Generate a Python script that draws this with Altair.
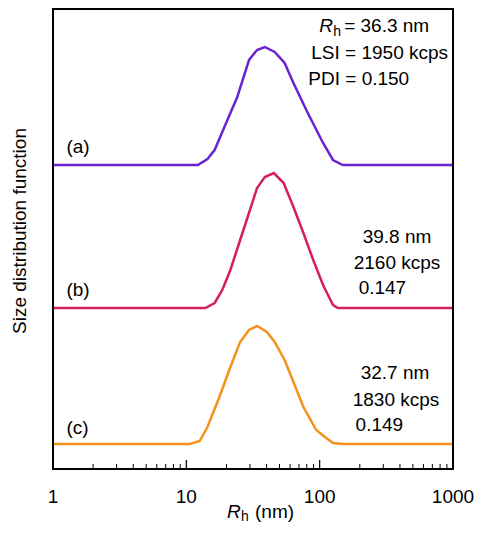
import altair as alt
import pandas as pd

# ---------------- data ----------------
R_a = [1, 12.2, 14.4, 16.3, 19.3, 24.1, 29.5, 33.9, 38.8, 46.0, 54.6, 63.6, 79.4, 106, 126, 149, 1000]
I_a = [0, 0, 6, 15, 38, 68, 105, 115, 118, 113, 102, 82, 55, 22, 5, 0, 0]

R_b = [1, 13.9, 16.3, 18.6, 21.4, 24.9, 29.5, 33.9, 38.8, 45.3, 53.7, 63.6, 75.5, 89.5, 106, 126, 137, 1000]
I_b = [0, 0, 5, 18, 38, 65, 95, 120, 131, 135, 125, 101, 75, 48, 23, 3, 0, 0]

R_c = [1, 10.6, 12.6, 14.4, 17.7, 21.4, 25.3, 29.5, 33.9, 40.2, 46.0, 54.6, 63.6, 75.5, 94.2, 112, 126, 149, 1000]
I_c = [0, 0, 3, 17, 47, 77, 102, 114, 118, 112, 102, 84, 62, 37, 14, 6, 1, 0, 0]

series = ["a", "b", "c"]
offsets = [307, 164, 28]
colors = ["#6A22D2", "#D6205C", "#F4921E"]

x_ticks = [1, 10, 100, 1000]
x_tick_labels = ["1", "10", "100", "1000"]
minor_ticks = [2, 3, 4, 5, 6, 7, 8, 9, 20, 30, 40, 50, 60, 70, 80, 90, 200, 300, 400, 500, 600, 700, 800, 900]
major_ticks = [10, 100]

ann_text = ["LSI = 1950 kcps", "PDI = 0.150",
            "39.8 nm", "2160 kcps", "0.147",
            "32.7 nm", "1830 kcps", "0.149",
            "(a)", "(b)", "(c)"]
ann_x = [86.5, 82.2, 210, 180, 196, 203, 177, 186, 1.26, 1.26, 1.26]
ann_y = [419, 393, 235, 209, 184, 99, 72, 47, 325, 182, 44]

y_title = "Size distribution function"

# ---------------- build tables ----------------
rows = []
for s, Rs, Is, off in zip(series, [R_a, R_b, R_c], [I_a, I_b, I_c], offsets):
    for i, (r, v) in enumerate(zip(Rs, Is)):
        rows.append({"series": s, "R": r, "y": v + off, "order": i})
df = pd.DataFrame(rows)

ann = pd.DataFrame({"text": ann_text, "x": ann_x, "y": ann_y})
ticks = pd.DataFrame({"t": minor_ticks})
mticks = pd.DataFrame({"t": major_ticks})
tlab = pd.DataFrame({"t": x_ticks, "label": x_tick_labels})
one = pd.DataFrame({"k": [0]})

W, H = 400, 460
Y0, Y1 = 3, 463
FONT = "Liberation Sans"
FS = 19

xscale = alt.Scale(type="log", domain=[1, 1000], nice=False)
yscale = alt.Scale(domain=[Y0, Y1], nice=False, zero=False)

lines = alt.Chart(df).mark_line(strokeWidth=2.5, clip=True).encode(
    x=alt.X("R:Q", scale=xscale, axis=None),
    y=alt.Y("y:Q", scale=yscale, axis=None),
    color=alt.Color("series:N", scale=alt.Scale(domain=series, range=colors), legend=None),
    order="order:Q",
)

fr = dict(color="black", strokeWidth=2)
f_top = alt.Chart(one).mark_rule(**fr).encode(
    x=alt.X(datum=1, scale=xscale, axis=None), x2=alt.X2(datum=1000),
    y=alt.Y(datum=Y1, scale=yscale, axis=None))
f_bot = alt.Chart(one).mark_rule(**fr).encode(
    x=alt.X(datum=1, scale=xscale, axis=None), x2=alt.X2(datum=1000),
    y=alt.Y(datum=Y0, scale=yscale, axis=None))
f_left = alt.Chart(one).mark_rule(**fr).encode(
    x=alt.X(datum=1, scale=xscale, axis=None),
    y=alt.Y(datum=Y0, scale=yscale, axis=None), y2=alt.Y2(datum=Y1))
f_right = alt.Chart(one).mark_rule(**fr).encode(
    x=alt.X(datum=1000, scale=xscale, axis=None),
    y=alt.Y(datum=Y0, scale=yscale, axis=None), y2=alt.Y2(datum=Y1))

minor = alt.Chart(ticks).mark_rule(color="black", strokeWidth=1).encode(
    x=alt.X("t:Q", scale=xscale, axis=None), y=alt.value(H), y2=alt.value(H - 5))
major = alt.Chart(mticks).mark_rule(color="black", strokeWidth=1.2).encode(
    x=alt.X("t:Q", scale=xscale, axis=None), y=alt.value(H), y2=alt.value(H - 9))

# x tick labels
tick_labels = alt.Chart(tlab).mark_text(font=FONT, fontSize=FS, align="center",
                                        baseline="middle", color="black").encode(
    x=alt.X("t:Q", scale=xscale, axis=None), y=alt.value(H + 28), text="label:N")

# y title
ytitle = alt.Chart(one).mark_text(font=FONT, fontSize=FS, angle=270, align="center",
                                  baseline="middle", color="black").encode(
    x=alt.value(-33), y=alt.value(222), text=alt.value(y_title))

texts = alt.Chart(ann).mark_text(font=FONT, fontSize=FS, align="left",
                                 baseline="middle", color="black").encode(
    x=alt.X("x:Q", scale=xscale, axis=None), y=alt.Y("y:Q", scale=yscale, axis=None),
    text="text:N")

rh = pd.DataFrame({"x": [99.1], "y": [446]})
pos = dict(x=alt.X("x:Q", scale=xscale, axis=None), y=alt.Y("y:Q", scale=yscale, axis=None))
rh_R = alt.Chart(rh).mark_text(font=FONT, fontSize=FS, fontStyle="italic", align="left",
                               baseline="middle", color="black").encode(
    text=alt.value("R"), **pos)
rh_h = alt.Chart(rh).mark_text(font=FONT, fontSize=14, align="left", dx=14, dy=6,
                               baseline="middle", color="black").encode(
    text=alt.value("h"), **pos)
rh_rest = alt.Chart(rh).mark_text(font=FONT, fontSize=FS, align="left", dx=25,
                                  baseline="middle", color="black").encode(
    text=alt.value("= 36.3 nm"), **pos)

# x-axis title  R_h (nm)
xt_R = alt.Chart(rh).mark_text(font=FONT, fontSize=FS, fontStyle="italic", align="left",
                               baseline="middle", color="black").encode(
    x=alt.value(174), y=alt.value(503), text=alt.value("R"))
xt_h = alt.Chart(rh).mark_text(font=FONT, fontSize=14, align="left",
                               baseline="middle", color="black").encode(
    x=alt.value(188), y=alt.value(508), text=alt.value("h"))
xt_rest = alt.Chart(rh).mark_text(font=FONT, fontSize=FS, align="left",
                                  baseline="middle", color="black").encode(
    x=alt.value(202), y=alt.value(503), text=alt.value("(nm)"))

chart = alt.layer(lines, f_top, f_bot, f_left, f_right, minor, major, tick_labels, ytitle,
                  texts, rh_R, rh_h, rh_rest, xt_R, xt_h, xt_rest).properties(
    width=W, height=H,
    autosize=alt.AutoSizeParams(type="none"),
    padding={"left": 45, "top": 1, "right": 21, "bottom": 54},
).configure(background="white").configure_view(stroke="black", strokeWidth=2)

chart.save("out.html", embed_options={"renderer": "svg", "actions": False})
